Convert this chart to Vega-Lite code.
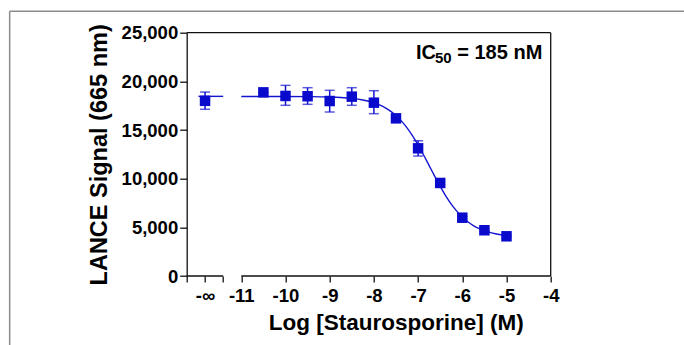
{
  "$schema": "https://vega.github.io/schema/vega-lite/v6.json",
  "autosize": {"type": "none"},
  "padding": {"left": 186.7, "top": 32.7, "right": 133.3, "bottom": 69},
  "width": 364,
  "height": 243.3,
  "background": "white",
  "config": {
    "view": {"stroke": null},
    "font": "Liberation Sans",
    "axis": {"grid": false},
    "axisX": {
      "titleFontSize": 22.5, "titleFontWeight": "bold", "titleColor": "black", "titlePadding": 7,
      "labelFontSize": 18.5, "labelFontWeight": "bold", "labelColor": "black",
      "labelPadding": 4, "labelOverlap": false, "labelFlush": false, "labelBound": false,
      "domain": false, "ticks": true, "tickSize": 6, "tickWidth": 1.3, "tickColor": "#111"
    },
    "axisY": {
      "titleFontSize": 23.5, "titleFontWeight": "bold", "titleColor": "black", "titlePadding": 10,
      "labelFontSize": 18.5, "labelFontWeight": "bold", "labelColor": "black", "labelPadding": 2,
      "domain": true, "domainColor": "#111", "domainWidth": 1.3,
      "tickSize": 7, "tickWidth": 1.3, "tickColor": "#111"
    }
  },
  "data": {"values": [{"k": 1}]},
  "datasets": {
    "points": [
      {"logc": -11.82, "signal": 18000, "lo": 17130, "hi": 18900},
      {"logc": -10.5, "signal": 18870, "lo": 18800, "hi": 18940},
      {"logc": -10, "signal": 18500, "lo": 17540, "hi": 19590},
      {"logc": -9.5, "signal": 18470, "lo": 17640, "hi": 19350},
      {"logc": -9, "signal": 17980, "lo": 16850, "hi": 19080},
      {"logc": -8.5, "signal": 18430, "lo": 17540, "hi": 19350},
      {"logc": -8, "signal": 17810, "lo": 16680, "hi": 19040},
      {"logc": -7.5, "signal": 16200, "lo": 15850, "hi": 16550},
      {"logc": -7, "signal": 13120, "lo": 12330, "hi": 13900},
      {"logc": -6.5, "signal": 9560, "lo": 9400, "hi": 9720},
      {"logc": -6, "signal": 5990, "lo": 5850, "hi": 6130},
      {"logc": -5.5, "signal": 4700, "lo": 4600, "hi": 4800},
      {"logc": -5, "signal": 4080, "lo": 3980, "hi": 4180}
    ],
    "curve": [
      {"seg": "inf", "logc": -11.97, "signal": 18460},
      {"seg": "inf", "logc": -11.41, "signal": 18460},
      {"seg": "fit", "logc": -11, "signal": 18450},
      {"seg": "fit", "logc": -10.5, "signal": 18448},
      {"seg": "fit", "logc": -10, "signal": 18445},
      {"seg": "fit", "logc": -9.5, "signal": 18432},
      {"seg": "fit", "logc": -9, "signal": 18390},
      {"seg": "fit", "logc": -8.75, "signal": 18340},
      {"seg": "fit", "logc": -8.5, "signal": 18250},
      {"seg": "fit", "logc": -8.25, "signal": 18089},
      {"seg": "fit", "logc": -8, "signal": 17802},
      {"seg": "fit", "logc": -7.875, "signal": 17588},
      {"seg": "fit", "logc": -7.75, "signal": 17308},
      {"seg": "fit", "logc": -7.625, "signal": 16946},
      {"seg": "fit", "logc": -7.5, "signal": 16487},
      {"seg": "fit", "logc": -7.375, "signal": 15916},
      {"seg": "fit", "logc": -7.25, "signal": 15220},
      {"seg": "fit", "logc": -7.125, "signal": 14399},
      {"seg": "fit", "logc": -7, "signal": 13461},
      {"seg": "fit", "logc": -6.875, "signal": 12431},
      {"seg": "fit", "logc": -6.75, "signal": 11348},
      {"seg": "fit", "logc": -6.625, "signal": 10260},
      {"seg": "fit", "logc": -6.5, "signal": 9211},
      {"seg": "fit", "logc": -6.375, "signal": 8245},
      {"seg": "fit", "logc": -6.25, "signal": 7391},
      {"seg": "fit", "logc": -6.125, "signal": 6662},
      {"seg": "fit", "logc": -6, "signal": 6056},
      {"seg": "fit", "logc": -5.875, "signal": 5572},
      {"seg": "fit", "logc": -5.75, "signal": 5182},
      {"seg": "fit", "logc": -5.625, "signal": 4882},
      {"seg": "fit", "logc": -5.5, "signal": 4650},
      {"seg": "fit", "logc": -5.375, "signal": 4475},
      {"seg": "fit", "logc": -5.25, "signal": 4341},
      {"seg": "fit", "logc": -5.125, "signal": 4242},
      {"seg": "fit", "logc": -5, "signal": 4166}
    ]
  },
  "layer": [
    {
      "data": {"name": "points"},
      "mark": {"type": "point", "opacity": 0},
      "encoding": {
        "x": {"field": "logc", "type": "quantitative",
          "scale": {"domain": [-12.235, -4], "nice": false, "zero": false},
          "axis": {"title": "Log [Staurosporine] (M)", "titleX": 209, "values": [-12.235, -11.82, -11.41, -11, -10, -9, -8, -7, -6, -5, -4], "labelExpr": "(datum.value < -11.6 && datum.value > -12) ? '-∞' : (datum.value < -11.2 ? '' : '' + datum.value)"}},
        "y": {"field": "signal", "type": "quantitative",
          "scale": {"domain": [0, 25000], "nice": false, "zero": true},
          "axis": {"title": "LANCE Signal (665 nm)", "values": [0, 5000, 10000, 15000, 20000, 25000], "format": ",d"}}
      }
    },
    {
      "mark": {"type": "rule", "color": "#8c8c8c", "strokeWidth": 1.5},
      "encoding": {
        "x": {"datum": -16.24, "type": "quantitative",
          "axis": {"title": "Log [Staurosporine] (M)", "titleX": 209, "values": [-12.235, -11.82, -11.41, -11, -10, -9, -8, -7, -6, -5, -4], "labelExpr": "(datum.value < -11.6 && datum.value > -12) ? '-∞' : (datum.value < -11.2 ? '' : '' + datum.value)"}},
        "y": {"datum": -8000, "type": "quantitative",
          "axis": {"title": "LANCE Signal (665 nm)", "values": [0, 5000, 10000, 15000, 20000, 25000], "format": ",d"}},
        "y2": {"datum": 27200}
      }
    },
    {
      "mark": {"type": "rule", "color": "#8c8c8c", "strokeWidth": 1.5},
      "encoding": {
        "x": {"datum": -16.24, "type": "quantitative",
          "axis": {"title": "Log [Staurosporine] (M)", "titleX": 209, "values": [-12.235, -11.82, -11.41, -11, -10, -9, -8, -7, -6, -5, -4], "labelExpr": "(datum.value < -11.6 && datum.value > -12) ? '-∞' : (datum.value < -11.2 ? '' : '' + datum.value)"}},
        "x2": {"datum": 0},
        "y": {"datum": 27200, "type": "quantitative",
          "axis": {"title": "LANCE Signal (665 nm)", "values": [0, 5000, 10000, 15000, 20000, 25000], "format": ",d"}}
      }
    },
    {
      "mark": {"type": "rule", "color": "#111", "strokeWidth": 1.3},
      "encoding": {
        "x": {"datum": -12.235, "type": "quantitative",
          "axis": {"title": "Log [Staurosporine] (M)", "titleX": 209, "values": [-12.235, -11.82, -11.41, -11, -10, -9, -8, -7, -6, -5, -4], "labelExpr": "(datum.value < -11.6 && datum.value > -12) ? '-∞' : (datum.value < -11.2 ? '' : '' + datum.value)"}},
        "x2": {"datum": -4},
        "y": {"datum": 25000, "type": "quantitative",
          "axis": {"title": "LANCE Signal (665 nm)", "values": [0, 5000, 10000, 15000, 20000, 25000], "format": ",d"}}
      }
    },
    {
      "mark": {"type": "rule", "color": "#111", "strokeWidth": 1.3},
      "encoding": {
        "x": {"datum": -4, "type": "quantitative",
          "axis": {"title": "Log [Staurosporine] (M)", "titleX": 209, "values": [-12.235, -11.82, -11.41, -11, -10, -9, -8, -7, -6, -5, -4], "labelExpr": "(datum.value < -11.6 && datum.value > -12) ? '-∞' : (datum.value < -11.2 ? '' : '' + datum.value)"}},
        "y": {"datum": 0, "type": "quantitative",
          "axis": {"title": "LANCE Signal (665 nm)", "values": [0, 5000, 10000, 15000, 20000, 25000], "format": ",d"}},
        "y2": {"datum": 25000}
      }
    },
    {
      "mark": {"type": "rule", "color": "#111", "strokeWidth": 1.3},
      "encoding": {
        "x": {"datum": -12.235, "type": "quantitative",
          "axis": {"title": "Log [Staurosporine] (M)", "titleX": 209, "values": [-12.235, -11.82, -11.41, -11, -10, -9, -8, -7, -6, -5, -4], "labelExpr": "(datum.value < -11.6 && datum.value > -12) ? '-∞' : (datum.value < -11.2 ? '' : '' + datum.value)"}},
        "x2": {"datum": -11.41},
        "y": {"datum": 0, "type": "quantitative",
          "axis": {"title": "LANCE Signal (665 nm)", "values": [0, 5000, 10000, 15000, 20000, 25000], "format": ",d"}}
      }
    },
    {
      "mark": {"type": "rule", "color": "#111", "strokeWidth": 1.3},
      "encoding": {
        "x": {"datum": -11, "type": "quantitative",
          "axis": {"title": "Log [Staurosporine] (M)", "titleX": 209, "values": [-12.235, -11.82, -11.41, -11, -10, -9, -8, -7, -6, -5, -4], "labelExpr": "(datum.value < -11.6 && datum.value > -12) ? '-∞' : (datum.value < -11.2 ? '' : '' + datum.value)"}},
        "x2": {"datum": -4},
        "y": {"datum": 0, "type": "quantitative",
          "axis": {"title": "LANCE Signal (665 nm)", "values": [0, 5000, 10000, 15000, 20000, 25000], "format": ",d"}}
      }
    },
    {
      "data": {"name": "curve"},
      "mark": {"type": "line", "color": "#1414d2", "strokeWidth": 1.4, "interpolate": "monotone"},
      "encoding": {
        "x": {"field": "logc", "type": "quantitative",
          "axis": {"title": "Log [Staurosporine] (M)", "titleX": 209, "values": [-12.235, -11.82, -11.41, -11, -10, -9, -8, -7, -6, -5, -4], "labelExpr": "(datum.value < -11.6 && datum.value > -12) ? '-∞' : (datum.value < -11.2 ? '' : '' + datum.value)"}},
        "y": {"field": "signal", "type": "quantitative",
          "axis": {"title": "LANCE Signal (665 nm)", "values": [0, 5000, 10000, 15000, 20000, 25000], "format": ",d"}},
        "detail": {"field": "seg"}
      }
    },
    {
      "data": {"name": "points"},
      "mark": {"type": "rule", "color": "#1414d2", "strokeWidth": 1.5},
      "encoding": {
        "x": {"field": "logc", "type": "quantitative",
          "axis": {"title": "Log [Staurosporine] (M)", "titleX": 209, "values": [-12.235, -11.82, -11.41, -11, -10, -9, -8, -7, -6, -5, -4], "labelExpr": "(datum.value < -11.6 && datum.value > -12) ? '-∞' : (datum.value < -11.2 ? '' : '' + datum.value)"}},
        "y": {"field": "lo", "type": "quantitative",
          "axis": {"title": "LANCE Signal (665 nm)", "values": [0, 5000, 10000, 15000, 20000, 25000], "format": ",d"}},
        "y2": {"field": "hi"}
      }
    },
    {
      "data": {"name": "points"},
      "mark": {"type": "tick", "orient": "horizontal", "color": "#1414d2", "size": 10, "thickness": 1.5},
      "encoding": {
        "x": {"field": "logc", "type": "quantitative",
          "axis": {"title": "Log [Staurosporine] (M)", "titleX": 209, "values": [-12.235, -11.82, -11.41, -11, -10, -9, -8, -7, -6, -5, -4], "labelExpr": "(datum.value < -11.6 && datum.value > -12) ? '-∞' : (datum.value < -11.2 ? '' : '' + datum.value)"}},
        "y": {"field": "lo", "type": "quantitative",
          "axis": {"title": "LANCE Signal (665 nm)", "values": [0, 5000, 10000, 15000, 20000, 25000], "format": ",d"}}
      }
    },
    {
      "data": {"name": "points"},
      "mark": {"type": "tick", "orient": "horizontal", "color": "#1414d2", "size": 10, "thickness": 1.5},
      "encoding": {
        "x": {"field": "logc", "type": "quantitative",
          "axis": {"title": "Log [Staurosporine] (M)", "titleX": 209, "values": [-12.235, -11.82, -11.41, -11, -10, -9, -8, -7, -6, -5, -4], "labelExpr": "(datum.value < -11.6 && datum.value > -12) ? '-∞' : (datum.value < -11.2 ? '' : '' + datum.value)"}},
        "y": {"field": "hi", "type": "quantitative",
          "axis": {"title": "LANCE Signal (665 nm)", "values": [0, 5000, 10000, 15000, 20000, 25000], "format": ",d"}}
      }
    },
    {
      "data": {"name": "points"},
      "mark": {"type": "point", "shape": "square", "filled": true, "color": "#0a0acd", "size": 110, "opacity": 1},
      "encoding": {
        "x": {"field": "logc", "type": "quantitative",
          "axis": {"title": "Log [Staurosporine] (M)", "titleX": 209, "values": [-12.235, -11.82, -11.41, -11, -10, -9, -8, -7, -6, -5, -4], "labelExpr": "(datum.value < -11.6 && datum.value > -12) ? '-∞' : (datum.value < -11.2 ? '' : '' + datum.value)"}},
        "y": {"field": "signal", "type": "quantitative",
          "axis": {"title": "LANCE Signal (665 nm)", "values": [0, 5000, 10000, 15000, 20000, 25000], "format": ",d"}}
      }
    },
    {
      "mark": {"type": "text", "text": "IC", "align": "left", "baseline": "alphabetic", "fontSize": 20, "fontWeight": "bold", "color": "black"},
      "encoding": {
        "x": {"datum": -7.047, "type": "quantitative",
          "axis": {"title": "Log [Staurosporine] (M)", "titleX": 209, "values": [-12.235, -11.82, -11.41, -11, -10, -9, -8, -7, -6, -5, -4], "labelExpr": "(datum.value < -11.6 && datum.value > -12) ? '-∞' : (datum.value < -11.2 ? '' : '' + datum.value)"}},
        "y": {"datum": 22300, "type": "quantitative",
          "axis": {"title": "LANCE Signal (665 nm)", "values": [0, 5000, 10000, 15000, 20000, 25000], "format": ",d"}}
      }
    },
    {
      "mark": {"type": "text", "text": "50", "align": "left", "baseline": "alphabetic", "fontSize": 15, "fontWeight": "bold", "color": "black"},
      "encoding": {
        "x": {"datum": -6.617, "type": "quantitative",
          "axis": {"title": "Log [Staurosporine] (M)", "titleX": 209, "values": [-12.235, -11.82, -11.41, -11, -10, -9, -8, -7, -6, -5, -4], "labelExpr": "(datum.value < -11.6 && datum.value > -12) ? '-∞' : (datum.value < -11.2 ? '' : '' + datum.value)"}},
        "y": {"datum": 21930, "type": "quantitative",
          "axis": {"title": "LANCE Signal (665 nm)", "values": [0, 5000, 10000, 15000, 20000, 25000], "format": ",d"}}
      }
    },
    {
      "mark": {"type": "text", "text": "= 185 nM", "align": "right", "baseline": "alphabetic", "fontSize": 20, "fontWeight": "bold", "color": "black"},
      "encoding": {
        "x": {"datum": -4.19, "type": "quantitative",
          "axis": {"title": "Log [Staurosporine] (M)", "titleX": 209, "values": [-12.235, -11.82, -11.41, -11, -10, -9, -8, -7, -6, -5, -4], "labelExpr": "(datum.value < -11.6 && datum.value > -12) ? '-∞' : (datum.value < -11.2 ? '' : '' + datum.value)"}},
        "y": {"datum": 22300, "type": "quantitative",
          "axis": {"title": "LANCE Signal (665 nm)", "values": [0, 5000, 10000, 15000, 20000, 25000], "format": ",d"}}
      }
    }
  ]
}
